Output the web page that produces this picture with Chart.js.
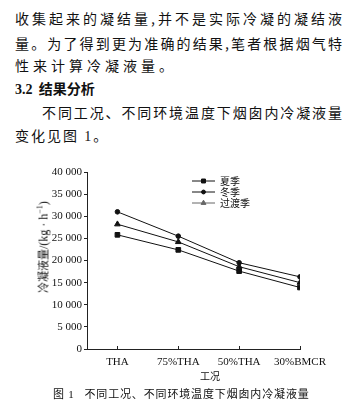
<!DOCTYPE html>
<html>
<head>
<meta charset="utf-8">
<script src="https://cdn.jsdelivr.net/npm/chart.js@4.4.0/dist/chart.umd.min.js"></script>
<style>
    body { margin: 0; background: #fff; }
    #page { position: relative; width: 360px; height: 411px; overflow: hidden; color: #111;
            font-family: "Noto Sans CJK SC", "Liberation Serif", serif; }
    .line { position: absolute; left: 15px; width: 327px; height: 20px; line-height: 20px;
            font-size: 14px; white-space: nowrap; }
    .just { text-align: justify; text-align-last: justify; }
    .num { font-family: "Liberation Serif", serif; }
    #chart-box { position: absolute; left: 0; top: 150px; }
    #y-title { position: absolute; left: 43px; top: 247px; transform: translate(-50%, -50%) rotate(-90deg);
               font-size: 11px; white-space: nowrap; }
    #x-title { position: absolute; left: 210px; top: 375px; transform: translate(-50%, -50%);
               font-size: 10px; white-space: nowrap; }
    #caption { position: absolute; left: 53px; top: 385px; height: 16px; line-height: 16px;
               font-size: 11px; letter-spacing: 0.85px; white-space: nowrap; }
</style>
</head>
<body>
<div id="page">
    <div class="line just" style="top: 8px;">收集起来的凝结量,并不是实际冷凝的凝结液</div>
    <div class="line just" style="top: 33px;">量。为了得到更为准确的结果,笔者根据烟气特</div>
    <div class="line" style="top: 55px; letter-spacing: 4px;">性来计算冷凝液量。</div>
    <div class="line" style="top: 78px; font-weight: bold;"><span class="num">3.2</span>&nbsp;&nbsp;结果分析</div>
    <div class="line just" style="top: 102px; left: 42px; width: 300px;">不同工况、不同环境温度下烟囱内冷凝液量</div>
    <div class="line" style="top: 125px; letter-spacing: 2px;">变化见图 <span class="num">1</span>。</div>

    <div id="chart-box"><canvas id="condensate-chart" width="360" height="220"></canvas></div>
    <div id="y-title">冷凝液量<span class="num" style="font-size: 12px;">/(kg · h<sup style="font-size: 8px;">−1</sup>)</span></div>
    <div id="x-title">工况</div>
    <div id="caption">图 <span class="num">1</span>&nbsp;&nbsp;&nbsp;不同工况、不同环境温度下烟囱内冷凝液量</div>
</div>

<script>
// Operating conditions along the x axis
const categories = ["THA", "75%THA", "50%THA", "30%BMCR"];

// Condensate amount in kg/h for each season
const summer = [25800, 22400, 17600, 13900];
const winter = [31000, 25500, 19500, 16300];
const transition = [28200, 24200, 18600, 15000];

// Y axis tick values
const y_ticks = [0, 5000, 10000, 15000, 20000, 25000, 30000, 35000, 40000];

// Points are placed by index so the first category can sit half a step in from the axis.
function to_points(values) {
    return values.map((v, i) => ({ x: i, y: v }));
}

// Format numbers like "35 000"
function format_number(v) {
    return String(v).replace(/\B(?=(\d{3})+(?!\d))/g, " ");
}

// Small vertical legend drawn inside the plot, like the printed figure
const season_legend = {
    id: "season_legend",
    afterDatasetsDraw(chart) {
        const ctx = chart.ctx;
        const area = chart.chartArea;
        const x0 = area.left + 105;
        let y = area.top + 9;

        ctx.save();
        chart.data.datasets.forEach((ds) => {
            ctx.strokeStyle = ds.legendColor;
            ctx.lineWidth = 1;
            ctx.beginPath();
            ctx.moveTo(x0, y);
            ctx.lineTo(x0 + 23, y);
            ctx.stroke();

            ctx.fillStyle = ds.legendColor;
            ctx.strokeStyle = ds.legendColor;
            Chart.helpers.drawPoint(ctx, {
                pointStyle: ds.pointStyle,
                radius: ds.pointRadius * 0.85,
                rotation: 0,
                borderWidth: 1
            }, x0 + 11.5, y);

            ctx.fillStyle = "#111";
            ctx.font = "10px 'Noto Sans CJK SC'";
            ctx.textBaseline = "middle";
            ctx.textAlign = "left";
            ctx.fillText(ds.label, x0 + 28, y);
            y += 11;
        });
        ctx.restore();
    }
};

const ctx = document.getElementById("condensate-chart").getContext("2d");

const data = {
    datasets: [{
        label: "夏季",
        data: to_points(summer),
        borderColor: "#111",
        backgroundColor: "#111",
        legendColor: "#111",
        pointStyle: "rect",
        pointRadius: 3.3,
        borderWidth: 1
    }, {
        label: "冬季",
        data: to_points(winter),
        borderColor: "#111",
        backgroundColor: "#111",
        legendColor: "#111",
        pointStyle: "circle",
        pointRadius: 2.3,
        borderWidth: 1
    }, {
        label: "过渡季",
        data: to_points(transition),
        borderColor: "#111",
        backgroundColor: "#111",
        legendColor: "#666",
        pointStyle: "triangle",
        pointRadius: 3.3,
        borderWidth: 1
    }]
};

const config = {
    type: "line",
    data: data,
    options: {
        responsive: false,
        animation: false,
        devicePixelRatio: 1,
        layout: {
            padding: { top: 22, left: 0, right: 60, bottom: 0 }
        },
        scales: {
            x: {
                type: "linear",
                min: -0.5,
                max: categories.length - 1,
                afterBuildTicks: (scale) => {
                    scale.ticks = categories.map((c, i) => ({ value: i }));
                },
                afterFit: (scale) => {
                    scale.height = 21;
                    scale.paddingLeft = 0;
                    scale.paddingRight = 0;
                },
                ticks: {
                    callback: (v) => categories[v],
                    color: "#111",
                    padding: 9.5,
                    maxRotation: 0,
                    autoSkip: false,
                    font: { family: "'Liberation Serif'", size: 11 }
                },
                grid: {
                    drawOnChartArea: false,
                    tickLength: -3,
                    color: "#222"
                },
                border: { color: "#222", width: 1 }
            },
            y: {
                min: 0,
                max: 40000,
                afterBuildTicks: (scale) => {
                    scale.ticks = y_ticks.map((v) => ({ value: v }));
                },
                afterFit: (scale) => {
                    scale.width = 87;
                },
                ticks: {
                    callback: (v) => format_number(v),
                    color: "#111",
                    padding: 2,
                    font: { family: "'Liberation Serif'", size: 11 }
                },
                grid: {
                    drawOnChartArea: false,
                    tickLength: 3,
                    color: "#222"
                },
                border: { color: "#222", width: 1 }
            }
        },
        plugins: {
            legend: { display: false },
            tooltip: { enabled: false }
        }
    },
    plugins: [season_legend]
};

// Create the chart
const condensate_chart = new Chart(ctx, config);
</script>
</body>
</html>
